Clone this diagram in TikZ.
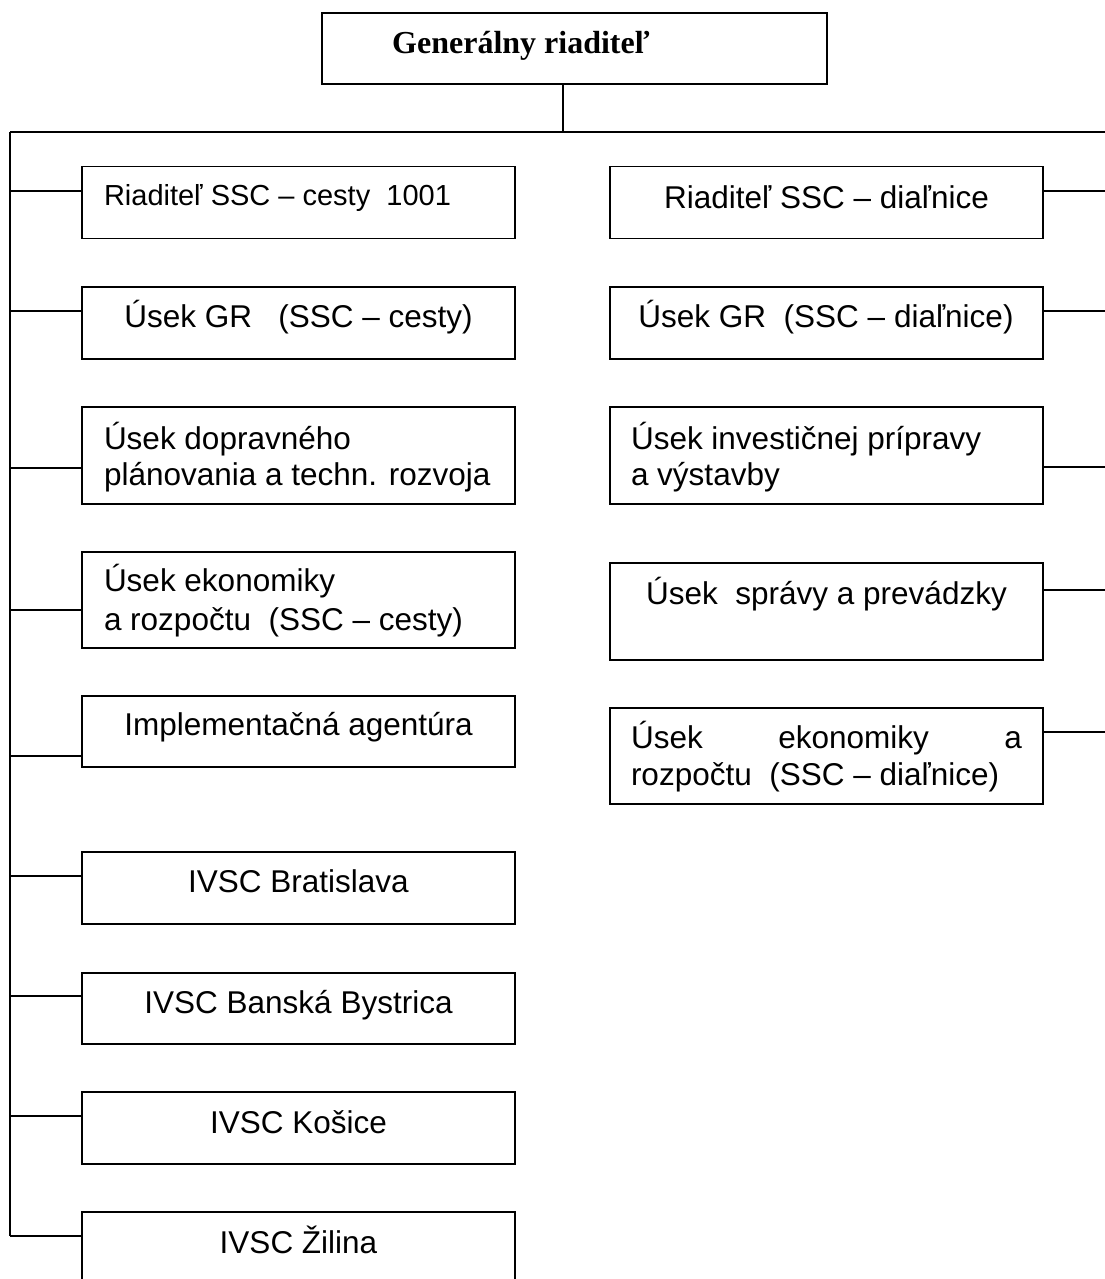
\documentclass[tikz,border=0pt]{standalone}
\usepackage{fontspec}
\setmainfont{Liberation Sans}
\newfontfamily\titlefont{Liberation Serif}
\tikzset{
  box/.style={draw=black, line width=1.6pt, rectangle, inner sep=0pt, outer sep=0pt, anchor=north west, minimum width=433pt},
  wire/.style={draw=black, line width=1.6pt},
  lbl/.style={inner sep=0pt, outer sep=0pt, font=\fontsize{31.5}{36}\selectfont},
  lblsmall/.style={inner sep=0pt, outer sep=0pt, font=\fontsize{29}{34}\selectfont},
}
\begin{document}
\begin{tikzpicture}[x=1pt,y=-1pt]
\useasboundingbox (0,0) rectangle (1105,1279);
\clip (0,0) rectangle (1105,1279);
% title
\node[box, minimum width=505pt, minimum height=71pt] (gr) at (322,13) {};
\node[inner sep=0pt, anchor=base, font=\titlefont\bfseries\fontsize{32}{36}\selectfont] (grt) at (521,54) {Generálny riaditeľ};
% bus
\coordinate (stem) at (563,132);
\coordinate (busL) at (10,132);
\coordinate (busR) at (1110,132);
\draw[wire] (stem |- gr.south) -- (stem);
\draw[wire] (busL) -- (busR);
% left boxes
\node[box, minimum height=72pt] (L1) at (82,166.5) {};
\node[box, minimum height=72pt] (L2) at (82,287) {};
\node[box, minimum height=97pt] (L3) at (82,407) {};
\node[box, minimum height=96pt] (L4) at (82,552) {};
\node[box, minimum height=71pt] (L5) at (82,696) {};
\node[box, minimum height=72pt] (L6) at (82,852) {};
\node[box, minimum height=71pt] (L7) at (82,973) {};
\node[box, minimum height=72pt] (L8) at (82,1092) {};
\node[box, minimum height=72pt] (L9) at (82,1212) {};
% right boxes
\node[box, minimum height=72pt] (R1) at (610,166.5) {};
\node[box, minimum height=72pt] (R2) at (610,287) {};
\node[box, minimum height=97pt] (R3) at (610,407) {};
\node[box, minimum height=97pt] (R4) at (610,563) {};
\node[box, minimum height=96pt] (R5) at (610,708) {};
% left trunk
\coordinate (jL1) at (10,191);
\coordinate (jL2) at (10,311);
\coordinate (jL3) at (10,468);
\coordinate (jL4) at (10,610);
\coordinate (jL5) at (10,756);
\coordinate (jL6) at (10,876);
\coordinate (jL7) at (10,996);
\coordinate (jL8) at (10,1116);
\coordinate (jL9) at (10,1236);
\draw[wire] (busL) -- (jL9);
\foreach \i in {1,...,9} {\draw[wire] (jL\i) -- (jL\i -| L\i.west);}
% right connectors
\coordinate (jR1) at (1110,191);
\coordinate (jR2) at (1110,311);
\coordinate (jR3) at (1110,467);
\coordinate (jR4) at (1110,590);
\coordinate (jR5) at (1110,732);
\foreach \i in {1,...,5} {\draw[wire] (jR\i -| R\i.east) -- (jR\i);}
% texts
\node[lblsmall, anchor=base west] (tL1) at (104,205) {Riaditeľ SSC – cesty~ 1001};
\node[lbl, anchor=base] (tR1) at (826.5,208) {Riaditeľ SSC – diaľnice};
\node[lbl, anchor=base] (tL2) at (298.5,327) {Úsek GR~~ (SSC – cesty)};
\node[lbl, anchor=base] (tR2) at (826,327) {Úsek GR~ (SSC – diaľnice)};
\node[lbl, anchor=base west] (tL3a) at (104,449) {Úsek dopravného};
\node[lbl, anchor=base west] (tL3b) at (104,485) {plánovania a techn. rozvoja};
\node[lbl, anchor=base west] (tR3a) at (631,449) {Úsek investičnej prípravy};
\node[lbl, anchor=base west] (tR3b) at (631,485) {a výstavby};
\node[lbl, anchor=base west] (tL4a) at (104,591) {Úsek ekonomiky};
\node[lbl, anchor=base west] (tL4b) at (104,630) {a rozpočtu~ (SSC – cesty)};
\node[lbl, anchor=base] (tR4) at (826.5,604) {Úsek~ správy a prevádzky};
\node[lbl, anchor=base] (tL5) at (298.5,735) {Implementačná agentúra};
\node[lbl, anchor=base west] (tR5a) at (631,748) {\makebox[391pt][s]{Úsek ekonomiky a}};
\node[lbl, anchor=base west] (tR5b) at (631,785) {rozpočtu~ (SSC – diaľnice)};
\node[lbl, anchor=base] (tL6) at (298.5,892) {IVSC Bratislava};
\node[lbl, anchor=base] (tL7) at (298.5,1013) {IVSC Banská Bystrica};
\node[lbl, anchor=base] (tL8) at (298.5,1133) {IVSC Košice};
\node[lbl, anchor=base] (tL9) at (298.5,1253) {IVSC Žilina};
\end{tikzpicture}
\end{document}
